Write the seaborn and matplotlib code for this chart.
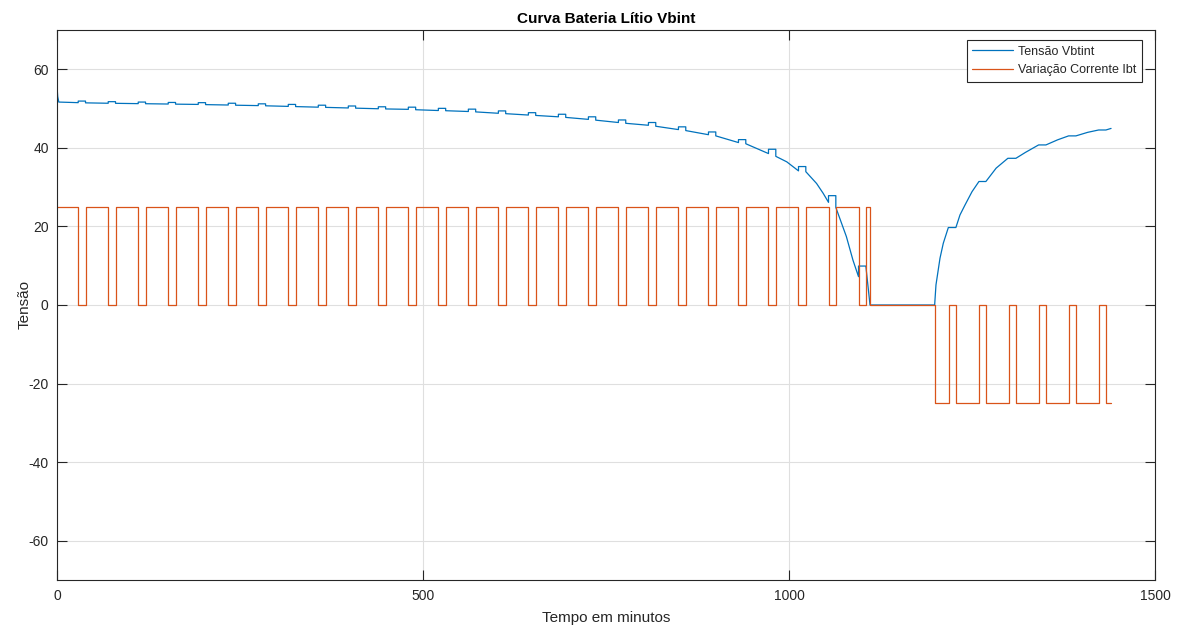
import matplotlib
matplotlib.use("Agg")
import matplotlib.pyplot as plt
import pandas as pd
import seaborn as sns

# ---------------- data ----------------
# discharge phase: current 25 A with 10-minute rests at 0 A
pause_start = [29, 70, 111, 152, 193, 234, 275, 316, 357, 398, 439, 480, 521, 562,
               603, 644, 685, 726, 767, 808, 849, 890, 931, 972, 1013, 1054, 1095]
pause_end = [39, 80, 121, 162, 203, 244, 285, 326, 367, 408, 449, 490, 531, 572,
             613, 654, 695, 736, 777, 818, 859, 900, 941, 982, 1023, 1064, 1105]
# battery voltage just before each rest, during the rest, and just after it
v_before = [51.45, 51.3, 51.2, 51.1, 51.0, 50.85, 50.7, 50.5, 50.3, 50.1, 49.9, 49.75,
            49.45, 49.2, 48.75, 48.3, 47.85, 47.2, 46.4, 45.7, 44.6, 43.3, 41.3, 38.5,
            34.1, 26.1, 7.2]
v_rest = [51.85, 51.7, 51.6, 51.5, 51.45, 51.3, 51.15, 51.0, 50.8, 50.6, 50.4, 50.3,
          50.0, 49.8, 49.35, 48.9, 48.5, 47.85, 47.05, 46.4, 45.3, 44.0, 42.05, 39.6,
          35.2, 27.8, 9.9]
v_after = [51.4, 51.28, 51.18, 51.07, 50.95, 50.8, 50.65, 50.45, 50.25, 50.05, 49.85,
           49.65, 49.4, 49.1, 48.65, 48.2, 47.7, 47.0, 46.2, 45.45, 44.35, 43.0, 41.0,
           37.8, 33.9, 24.8, 9.9]
# initial transient and extra points on the steep part of the discharge curve
start_t = [0, 1, 2.5]
start_v = [55.8, 53.0, 51.6]
curve_t = [956, 997, 1037.7, 1046.7, 1078.4, 1087.4]
curve_v = [39.8, 36.4, 30.9, 28.4, 17.4, 11.4]
# cut-off and idle
cutoff_t = 1110.7
charge_start_t = 1199
# charge phase: current -25 A with 10-minute rests at 0 A
charge_pause_start = [1218, 1259, 1300, 1341, 1382, 1423]
charge_pause_end = [1228, 1269, 1310, 1351, 1392, 1433]
end_t = 1440
recovery_t = [1199, 1200.8, 1206.3, 1210.8, 1217.7, 1228, 1233.6, 1240.4, 1250, 1259.5,
              1269, 1283, 1299, 1310, 1323, 1341, 1351, 1367, 1382, 1392, 1408, 1423,
              1433, 1440]
recovery_v = [0, 5.1, 11.9, 15.7, 19.7, 19.7, 22.9, 25.4, 28.8, 31.4, 31.4, 34.8, 37.3,
              37.3, 38.8, 40.7, 40.7, 42.0, 43.0, 43.0, 43.9, 44.5, 44.5, 44.9]
i_discharge, i_rest, i_charge = 25, 0, -25

labels = ["Tensão Vbtint", "Variação Corrente Ibt"]

# ---------------- build series ----------------
pts = list(zip(start_t, start_v))
for ts, te, vb, vr, va in zip(pause_start, pause_end, v_before, v_rest, v_after):
    pts += [(ts, vb), (ts, vr), (te, vr), (te, va)]
pts += list(zip(curve_t, curve_v))
pts += [(cutoff_t, 0.0)]
pts += list(zip(recovery_t, recovery_v))
pts = sorted(pts, key=lambda p: p[0])  # stable sort keeps vertical jumps in order
volt = pd.DataFrame(pts, columns=["t", "v"])

cur = [(0, i_discharge)]
for ts, te in zip(pause_start, pause_end):
    cur += [(ts, i_discharge), (ts, i_rest), (te, i_rest), (te, i_discharge)]
cur += [(cutoff_t, i_discharge), (cutoff_t, i_rest),
        (charge_start_t, i_rest), (charge_start_t, i_charge)]
for ts, te in zip(charge_pause_start, charge_pause_end):
    cur += [(ts, i_charge), (ts, i_rest), (te, i_rest), (te, i_charge)]
cur += [(end_t, i_charge)]
curr = pd.DataFrame(cur, columns=["t", "v"])

# ---------------- plot ----------------
sns.set_theme(style="whitegrid")
plt.rcParams["font.family"] = ["Liberation Sans", "DejaVu Sans"]
plt.rcParams["axes.unicode_minus"] = False

fig = plt.figure(figsize=(11.77, 6.28), dpi=100)
ax = fig.add_axes([0.0484, 0.0760, 0.9329, 0.8767])
ax.set_facecolor("white")

blue = "#0072BD"
orange = "#D95319"
sns.lineplot(data=volt, x="t", y="v", ax=ax, color=blue, lw=0.9,
             estimator=None, sort=False, label=labels[0])
sns.lineplot(data=curr, x="t", y="v", ax=ax, color=orange, lw=0.9,
             estimator=None, sort=False, label=labels[1])

ax.set_xlim(0, 1500)
ax.set_ylim(-70, 70)
ax.set_xticks([0, 500, 1000, 1500])
ax.set_yticks([-60, -40, -20, 0, 20, 40, 60])
ax.grid(True, color="#dfdfdf", lw=0.8)
for s in ax.spines.values():
    s.set_visible(True)
    s.set_color("#262626")
    s.set_linewidth(0.8)
ax.tick_params(direction="in", length=7.5, width=0.8, color="#262626",
               labelsize=10, labelcolor="#262626", top=True, right=True,
               bottom=True, left=True, pad=6)

ax.set_title("Curva Bateria Lítio Vbint", fontsize=11, fontweight="bold",
             color="black", pad=5)
ax.set_xlabel("Tempo em minutos", fontsize=11, color="#262626", labelpad=6)
ax.set_ylabel("Tensão", fontsize=11, color="#262626", labelpad=-2)

leg = ax.legend(loc="upper right", fontsize=9, frameon=True, fancybox=False,
                edgecolor="#262626", framealpha=1, handlelength=3.3,
                borderpad=0.45, labelspacing=0.5, handletextpad=0.35,
                borderaxespad=0, bbox_to_anchor=(0.988, 0.981))
leg.get_frame().set_linewidth(0.8)

fig.savefig("out.png", dpi=100)
